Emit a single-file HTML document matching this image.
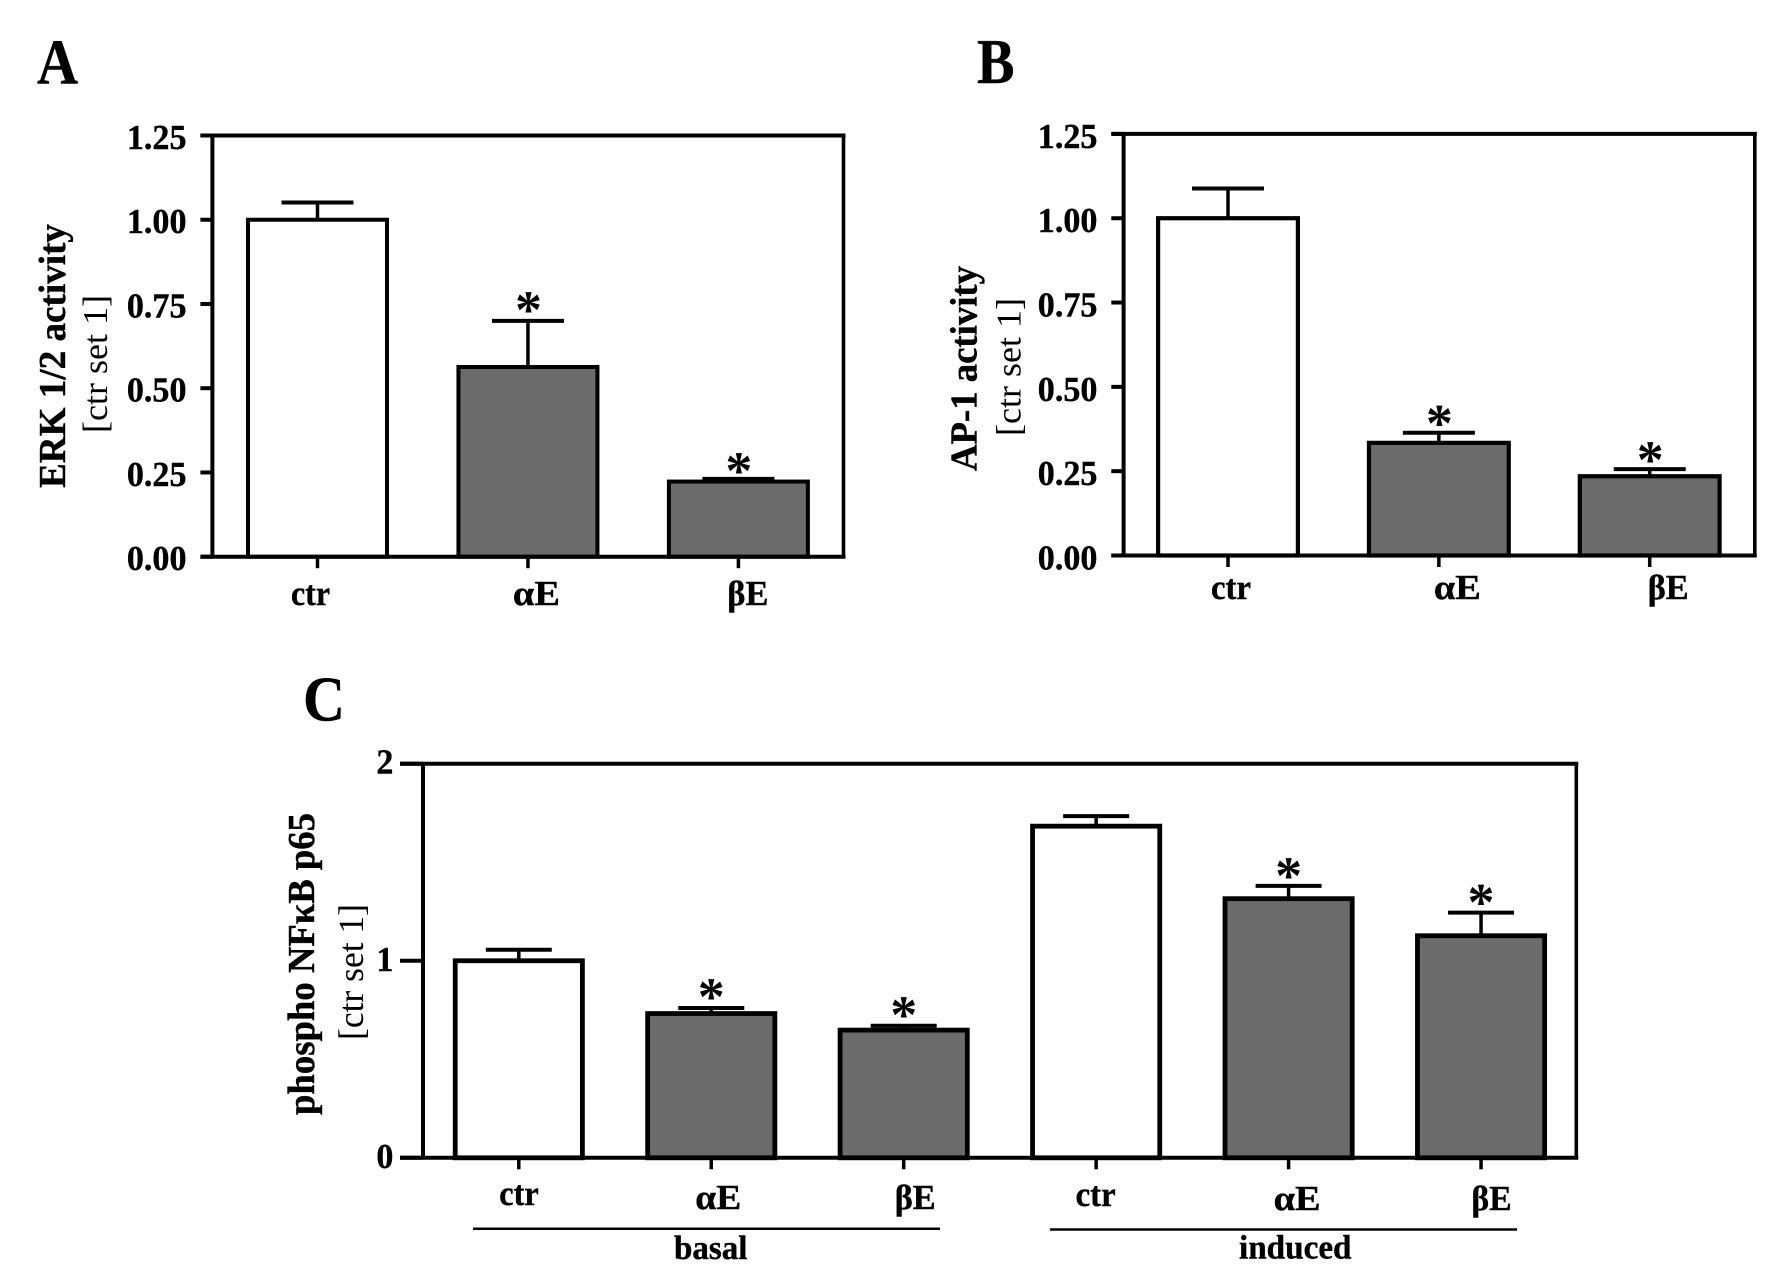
<!DOCTYPE html>
<html lang="en">
<head>
<meta charset="utf-8">
<title>ERK 1/2, AP-1 and phospho NFκB p65 activity</title>
<style>
html,body{margin:0;padding:0;background:#fff;}
svg{display:block;}
text{font-family:"Liberation Serif","DejaVu Serif",serif;fill:#000;}
.b,.bold-text{font-weight:bold;stroke:#000;stroke-width:.4;}
</style>
</head>
<body>
<svg id="figure" xmlns="http://www.w3.org/2000/svg" width="1772" height="1281" viewBox="0 0 1772 1281">
  <rect x="0" y="0" width="1772" height="1281" fill="#fff"/>
  <text class="b" x="37" y="83.7" font-size="64" textLength="41" lengthAdjust="spacingAndGlyphs">A</text>
  <text class="b" x="977" y="83" font-size="64" textLength="37.5" lengthAdjust="spacingAndGlyphs">B</text>
  <text class="b" x="303" y="720.5" font-size="64" textLength="42" lengthAdjust="spacingAndGlyphs">C</text>

  <text class="b" transform="translate(65,488) rotate(-90)" font-size="38.5" textLength="264" lengthAdjust="spacingAndGlyphs">ERK 1/2 activity</text>
  <text transform="translate(107,433) rotate(-90)" font-size="35" textLength="138" lengthAdjust="spacingAndGlyphs">[ctr set 1]</text>
  <text class="b" transform="translate(976.7,471) rotate(-90)" font-size="38.5" textLength="205" lengthAdjust="spacingAndGlyphs">AP-1 activity</text>
  <text transform="translate(1020.5,436) rotate(-90)" font-size="35" textLength="138" lengthAdjust="spacingAndGlyphs">[ctr set 1]</text>
  <text class="b" transform="translate(314,1115) rotate(-90)" font-size="38" textLength="302" lengthAdjust="spacingAndGlyphs">phospho NFκB p65</text>
  <text transform="translate(363,1040) rotate(-90)" font-size="36" textLength="136" lengthAdjust="spacingAndGlyphs">[ctr set 1]</text>

  <line x1="473" x2="940" y1="1228.7" y2="1228.7" stroke="#000" stroke-width="2.5"/>
  <line x1="1050" x2="1517" y1="1229.5" y2="1229.5" stroke="#000" stroke-width="2.5"/>
  <text class="b" x="674" y="1259" font-size="34" textLength="73.5" lengthAdjust="spacingAndGlyphs">basal</text>
  <text class="b" x="1239" y="1258.5" font-size="34" textLength="112.5" lengthAdjust="spacingAndGlyphs">induced</text>
</svg>
<script>
// Panel A data: ERK 1/2 activity
const categoriesA = ['ctr', 'αE', 'βE'];
const valuesA = [1.0, 0.563, 0.223];
const errorsA = [0.051, 0.137, 0.008];
const significantA = [false, true, true];
const tickLabelsA = ['0.00', '0.25', '0.50', '0.75', '1.00', '1.25'];

// Panel B data: AP-1 activity
const categoriesB = ['ctr', 'αE', 'βE'];
const valuesB = [1.0, 0.334, 0.235];
const errorsB = [0.088, 0.03, 0.021];
const significantB = [false, true, true];
const tickLabelsB = ['0.00', '0.25', '0.50', '0.75', '1.00', '1.25'];

// Panel C data: phospho NFkB p65
const categoriesC = ['ctr', 'αE', 'βE', 'ctr', 'αE', 'βE'];
const valuesC = [1.0, 0.732, 0.648, 1.683, 1.315, 1.127];
const errorsC = [0.056, 0.028, 0.022, 0.051, 0.065, 0.117];
const significantC = [false, true, true, false, true, true];
const tickLabelsC = ['0', '1', '2'];

const SVG_NS = 'http://www.w3.org/2000/svg';
const figure = document.getElementById('figure');

function shape(tag, attrs) {
  const el = document.createElementNS(SVG_NS, tag);
  for (const k in attrs) el.setAttribute(k, attrs[k]);
  figure.appendChild(el);
  return el;
}

function drawPanel(p) {
  const yMax = Number(p.tickLabels[p.tickLabels.length - 1]);
  const yScale = v => p.y0 - (v / yMax) * (p.y0 - p.yTop);
  const xScale = i => p.x0 + i * p.step;

  // bars first so axes sit on top
  p.values.forEach((v, i) => {
    const cx = xScale(i);
    const isCtr = p.categories[i] === 'ctr';
    const key = p.id + '-' + (i + 1) + '-' + (isCtr ? 'ctr' : p.categories[i] === 'αE' ? 'alpha-e' : 'beta-e');

    const stem = shape('line', { x1: cx, x2: cx, y1: yScale(v), y2: yScale(v + p.errors[i]), stroke: '#000', 'stroke-width': 3.5 });
    
    

    const cap = shape('line', { x1: cx - p.capWidth / 2, x2: cx + p.capWidth / 2, y1: yScale(v + p.errors[i]), y2: yScale(v + p.errors[i]), stroke: '#000', 'stroke-width': 4 });
    
    

    const bar = shape('rect', {
      x: cx - p.barWidth / 2 + p.barStroke / 2,
      y: yScale(v),
      width: p.barWidth - p.barStroke,
      height: yScale(0) - yScale(v),
      fill: isCtr ? '#ffffff' : '#6b6b6b',
      stroke: '#000',
      'stroke-width': p.barStroke
    });
    
    

    if (p.significant[i]) {
      const star = shape('text', { x: cx + p.starDx, y: yScale(v + p.errors[i]) + p.starDy[i], 'font-size': 54, 'font-weight': 'bold', 'text-anchor': 'middle' });
      star.textContent = '*';
      
      
    }

    const tick = shape('line', { x1: cx, x2: cx, y1: p.y0, y2: p.y0 + 11.5, stroke: '#000', 'stroke-width': 3.5 });
    
    

    const label = shape('text', {
      x: cx + p.labelDx[i],
      y: p.labelY[i],
      'font-size': 35,
      class: 'bold-text',
      textLength: p.labelW[i],
      lengthAdjust: 'spacingAndGlyphs'
    });
    label.textContent = p.categories[i];
    
    
  });

  // axes / frame
  const frameTop = shape('line', { x1: p.xL - p.tickLen, x2: p.xR + 2, y1: p.yTop, y2: p.yTop, stroke: '#000', 'stroke-width': 4 });
  
  

  const frameRight = shape('line', { x1: p.xR, x2: p.xR, y1: p.yTop, y2: p.y0, stroke: '#000', 'stroke-width': 3.6 });
  
  

  const yAxis = shape('line', { x1: p.xL, x2: p.xL, y1: p.yTop, y2: p.y0, stroke: '#000', 'stroke-width': 4 });
  
  

  const xAxis = shape('line', { x1: p.xL - p.tickLen, x2: p.xR + 2, y1: p.y0, y2: p.y0, stroke: '#000', 'stroke-width': 4 });
  
  

  p.tickLabels.forEach(t => {
    const y = yScale(Number(t));
    const tick = shape('line', { x1: p.xL - p.tickLen, x2: p.xL, y1: y, y2: y, stroke: '#000', 'stroke-width': 4 });
    
    

    const label = shape('text', {
      x: p.tickTextRight,
      y: y + p.tickTextDy,
      'font-size': 35,
      class: 'bold-text',
      'text-anchor': 'end',
      textLength: t.length * p.tickCharW,
      lengthAdjust: 'spacingAndGlyphs'
    });
    label.textContent = t;
    
    
  });
}

drawPanel({
  id: 'a', categories: categoriesA, values: valuesA, errors: errorsA, significant: significantA, tickLabels: tickLabelsA,
  xL: 212.4, xR: 843.5, yTop: 135.5, y0: 556.7, x0: 317.5, step: 210.45,
  barWidth: 143, barStroke: 4, capWidth: 72, tickLen: 12, tickTextRight: 186.5, tickTextDy: 13.5, tickCharW: 14.9,
  starDx: 0.5, starDy: [0, 7, 10],
  labelDx: [-26.5, -15, -11], labelY: [605, 605, 605], labelW: [39, 47, 41]
});

drawPanel({
  id: 'b', categories: categoriesB, values: valuesB, errors: errorsB, significant: significantB, tickLabels: tickLabelsB,
  xL: 1123.6, xR: 1754.8, yTop: 133.9, y0: 555.5, x0: 1228, step: 210.85,
  barWidth: 144, barStroke: 4.2, capWidth: 72, tickLen: 12.3, tickTextRight: 1097.4, tickTextDy: 14, tickCharW: 14.9,
  starDx: 0.5, starDy: [0, 9, 9],
  labelDx: [-17, -5, -2], labelY: [599, 599, 599], labelW: [40, 47, 41]
});

drawPanel({
  id: 'c', categories: categoriesC, values: valuesC, errors: errorsC, significant: significantC, tickLabels: tickLabelsC,
  xL: 423, xR: 1576.3, yTop: 763.7, y0: 1157.8, x0: 518.8, step: 192.45,
  barWidth: 132, barStroke: 4.8, capWidth: 66, tickLen: 23, tickTextRight: 393.4, tickTextDy: 10, tickCharW: 17,
  starDx: 0, starDy: [0, 7, 7, 0, 8, 8],
  labelDx: [-19.5, -16, -9, -20.5, -15, -9.5], labelY: [1205, 1209, 1209, 1206, 1210, 1210], labelW: [39.5, 46, 41, 40, 47, 40]
});
</script>
</body>
</html>
